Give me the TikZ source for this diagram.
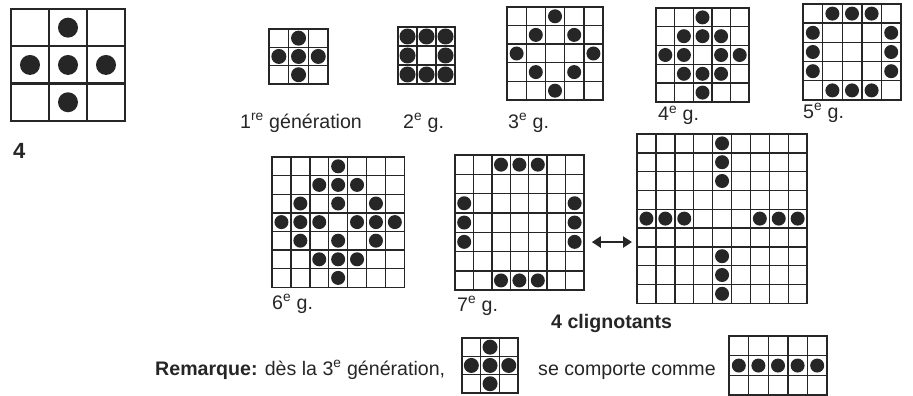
\documentclass[tikz,border=0pt]{standalone}
\usepackage{fontspec}
\setmainfont{Liberation Sans}
\usetikzlibrary{arrows.meta}
\definecolor{ink}{HTML}{262626}
\tikzset{
  gridline/.style={draw=ink, line width=1.4pt},
  dot/.style={fill=ink},
  lbl/.style={anchor=base west, inner sep=0pt, text=ink, font=\fontsize{19.6}{22}\selectfont},
  boldlbl/.style={lbl, font=\fontsize{19.6}{22}\selectfont\bfseries},
  twoway/.style={{Triangle[length=9pt,width=11pt]}-{Triangle[length=9pt,width=11pt]}, line width=2.6pt, draw=ink},
  dotr/.store in=\dotr, dotr=7,
}
% [opts]{name}{x}{y}{cols}{rows}{cell w}{cell h}{cells c/r}
\newcommand\lifegrid[9][]{%
  \begin{scope}[shift={(#3,#4)},#1]
    \node[gridline, anchor=north west, inner sep=0pt, outer sep=0pt,
          minimum width={#5*#7}, minimum height={#6*#8}] (#2) at (0,0) {};
    \pgfmathtruncatemacro\ncm{#5-1}
    \pgfmathtruncatemacro\nrm{#6-1}
    \foreach \ii in {1,...,\ncm} \draw[gridline] ({\ii*#7},0) -- ({\ii*#7},{#6*#8});
    \foreach \ii in {1,...,\nrm} \draw[gridline] (0,{\ii*#8}) -- ({#5*#7},{\ii*#8});
    \foreach \cc/\rr in {#9} \fill[dot] ({(\cc+0.5)*#7},{(\rr+0.5)*#8}) circle[radius=\dotr];
  \end{scope}}
\begin{document}
\begin{tikzpicture}[x=1pt,y=-1pt]
\useasboundingbox (0,0) rectangle (913,396);
% big example
\lifegrid[gridline/.append style={line width=2.2pt}, dotr=10]{g0}{11}{9}{3}{3}{38}{37.3}{1/0,0/1,1/1,2/1,1/2}
\node[boldlbl, font=\fontsize{22}{24}\selectfont\bfseries] (t0) at (13,158) {4};
% generations
\lifegrid[dotr=7.5]{g1}{269}{29}{3}{3}{19.7}{18.3}{1/0,0/1,1/1,2/1,1/2}
\lifegrid[dotr=8]{g2}{398}{27}{3}{3}{19}{19}{0/0,1/0,2/0,0/1,2/1,0/2,1/2,2/2}
\lifegrid{g3}{507}{7}{5}{5}{19.2}{18.6}{2/0,1/1,3/1,0/2,4/2,1/3,3/3,2/4}
\lifegrid{g4}{656}{8}{5}{5}{18.6}{18.8}{2/0,1/1,2/1,3/1,0/2,1/2,3/2,4/2,1/3,2/3,3/3,2/4}
\lifegrid{g5}{803}{4}{5}{5}{19.6}{19.2}{1/0,2/0,3/0,0/1,4/1,0/2,4/2,0/3,4/3,1/4,2/4,3/4}
\lifegrid{g6}{272}{157}{7}{7}{18.9}{18.6}{3/0,2/1,3/1,4/1,1/2,3/2,5/2,0/3,1/3,2/3,4/3,5/3,6/3,1/4,3/4,5/4,2/5,3/5,4/5,3/6}
\lifegrid{g7}{455}{155}{7}{7}{18.4}{19.3}{2/0,3/0,4/0,0/2,0/3,0/4,6/2,6/3,6/4,2/6,3/6,4/6}
\lifegrid{fin}{637}{134}{9}{9}{18.9}{18.8}{4/0,4/1,4/2,0/4,1/4,2/4,6/4,7/4,8/4,4/6,4/7,4/8}
% remark grids
\lifegrid[dotr=7.5]{r1}{462}{338}{3}{3}{18.7}{18.3}{1/0,0/1,1/1,2/1,1/2}
\lifegrid{r2}{729}{336}{5}{3}{19.6}{19.7}{0/1,1/1,2/1,3/1,4/1}
% labels
\node[lbl] (t1) at (240,128) {1\textsuperscript{re} génération};
\node[lbl] (t2) at (403,128) {2\textsuperscript{e} g.};
\node[lbl] (t3) at (508,128) {3\textsuperscript{e} g.};
\node[lbl] (t4) at (658,121) {4\textsuperscript{e} g.};
\node[lbl] (t5) at (803,118) {5\textsuperscript{e} g.};
\node[lbl] (t6) at (272,309) {6\textsuperscript{e} g.};
\node[lbl] (t7) at (457,311) {7\textsuperscript{e} g.};
\node[boldlbl] (tc) at (551,328) {4 clignotants};
\node[lbl] (trem) at (155,375) {\textbf{Remarque:} dès la 3\textsuperscript{e} génération,};
\node[lbl] (tse) at (538,375) {se comporte comme};
% arrow
\path ([yshift=-19.5pt]g7.east) coordinate (al);
\coordinate (ar) at (al -| fin.west);
\draw[twoway] ([xshift=8pt]al) -- ([xshift=-5pt]ar);
\end{tikzpicture}
\end{document}
